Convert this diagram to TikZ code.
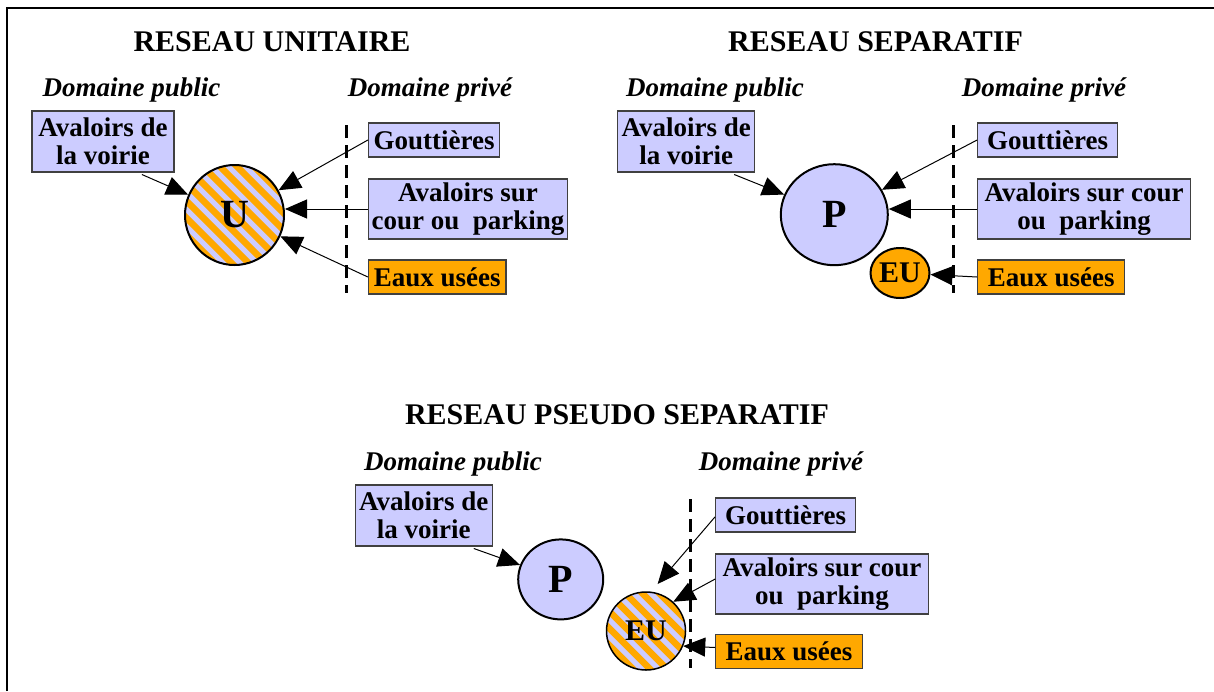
\documentclass[tikz,border=0pt]{standalone}
\usepackage{fontspec}
\setmainfont{Liberation Serif}
\usetikzlibrary{arrows.meta,shapes.geometric}

\definecolor{lavande}{RGB}{204,204,255}
\definecolor{orangeeu}{RGB}{255,168,0}

\tikzset{
  titre/.style={anchor=base, inner sep=0, font=\fontsize{30}{32}\selectfont\bfseries},
  domaine/.style={anchor=base, inner sep=0, font=\fontsize{27}{28}\selectfont\bfseries\itshape},
  boite/.style={draw=black!75, line width=1.2pt, fill=lavande, align=center, inner sep=0,
    font=\fontsize{27}{28}\selectfont\bfseries},
  boiteeu/.style={boite, fill=orangeeu},
  reseau/.style={ellipse, draw, line width=2pt, fill=lavande, inner sep=0,
    font=\fontsize{40}{42}\selectfont\bfseries},
  petit/.style={font=\fontsize{30}{32}\selectfont\bfseries},
  raye/.style={path picture={
    \foreach \k in {-8,...,8}
      \draw[orangeeu, line width=6.5pt]
        ([xshift={\k*17pt-60pt}, yshift=60pt]path picture bounding box.center) -- ++(120pt,-120pt);
  }},
  limite/.style={dash pattern=on 13pt off 7pt, line width=3pt},
  fleche/.style={-{Triangle[length=22pt,width=19pt]}, line width=1pt},
}

\begin{document}
\begin{tikzpicture}[x=1pt, y=-1pt]
  \useasboundingbox (0,0) rectangle (1214,691);
  \draw[line width=2pt] (7,691) -- (7,8) -- (1214,8);

  % reseau unitaire
  \node[titre] (t1) at (272,51.7) {RESEAU UNITAIRE};
  \node[domaine] (pub1) at (131.5,96) {Domaine public};
  \node[domaine] (priv1) at (430,96) {Domaine privé};
  \node[boite, minimum width=142, minimum height=61] (voirie1) at (102.9,141.4) {Avaloirs de\\la voirie};
  \node[reseau, raye, minimum width=99, minimum height=100] (U1) at (234.5,215) {U};
  \node[boite, minimum width=131, minimum height=34] (gout1) at (434,140) {Gouttières};
  \node[boite, minimum width=199, minimum height=60] (aval1) at (468,209) {Avaloirs sur\\cour ou~~parking};
  \node[boiteeu, minimum width=137.5, minimum height=34] (eaux1) at (437.2,277) {Eaux usées};
  \draw[limite] (346,125) -- (346,293);

  \draw[fleche] ([xshift=39pt,yshift=-2pt]voirie1.south) -- (U1);
  \draw[fleche] (gout1.west) -- (U1);
  \draw[fleche] (aval1.west) -- (aval1.west -| U1.east);
  \draw[fleche] (eaux1.west) -- (U1);

  % reseau separatif
  \node[titre] (t2) at (875.5,51.7) {RESEAU SEPARATIF};
  \node[domaine] (pub2) at (715,96) {Domaine public};
  \node[domaine] (priv2) at (1044,96) {Domaine privé};
  \node[boite, minimum width=137, minimum height=61] (voirie2) at (686.2,141.4) {Avaloirs de\\la voirie};
  \node[reseau, minimum width=107, minimum height=101] (P2) at (834.3,214.7) {P};
  \node[reseau, petit, fill=orangeeu, minimum width=59, minimum height=50] (EU2) at (900,273) {EU};
  \node[boite, minimum width=140, minimum height=34] (gout2) at (1047.7,140) {Gouttières};
  \node[boite, minimum width=212.6, minimum height=60] (aval2) at (1084.1,209) {Avaloirs sur cour\\ou~~parking};
  \node[boiteeu, minimum width=147, minimum height=34] (eaux2) at (1051.2,277) {Eaux usées};
  \draw[limite] (953.6,125) -- (953.6,293);

  \draw[fleche] ([xshift=48pt,yshift=-2pt]voirie2.south) -- (P2);
  \draw[fleche] (gout2.west) -- (P2);
  \draw[fleche] (aval2.west) -- (aval2.west -| P2.east);
  \draw[fleche] (eaux2.west) -- (EU2);

  % reseau pseudo separatif
  \node[titre] (t3) at (617,424) {RESEAU PSEUDO SEPARATIF};
  \node[domaine] (pub3) at (453,470) {Domaine public};
  \node[domaine] (priv3) at (781,470) {Domaine privé};
  \node[boite, minimum width=137, minimum height=61] (voirie3) at (423.8,515.4) {Avaloirs de\\la voirie};
  \node[reseau, minimum width=85, minimum height=80] (P3) at (560.7,579.4) {P};
  \node[reseau, petit, raye, line width=1.5pt, minimum width=79, minimum height=78] (EU3) at (646,631) {EU};
  \node[boite, minimum width=140, minimum height=34] (gout3) at (785.6,514.9) {Gouttières};
  \node[boite, minimum width=212.4, minimum height=60] (aval3) at (822,584) {Avaloirs sur cour\\ou~~parking};
  \node[boiteeu, minimum width=146.6, minimum height=33.5] (eaux3) at (789,651.5) {Eaux usées};
  \draw[limite] (690,499) -- (690,668);
  \coordinate (gbout3) at (657.6,584);

  \draw[fleche] ([xshift=50pt,yshift=-2pt]voirie3.south) -- (P3);
  \draw[fleche] ([yshift=-2pt]gout3.west) -- (gbout3);
  \draw[fleche] ([yshift=5pt]aval3.west) -- (EU3.47);
  \draw[fleche] ([yshift=4pt]eaux3.west) -- (EU3.-22);
\end{tikzpicture}
\end{document}
